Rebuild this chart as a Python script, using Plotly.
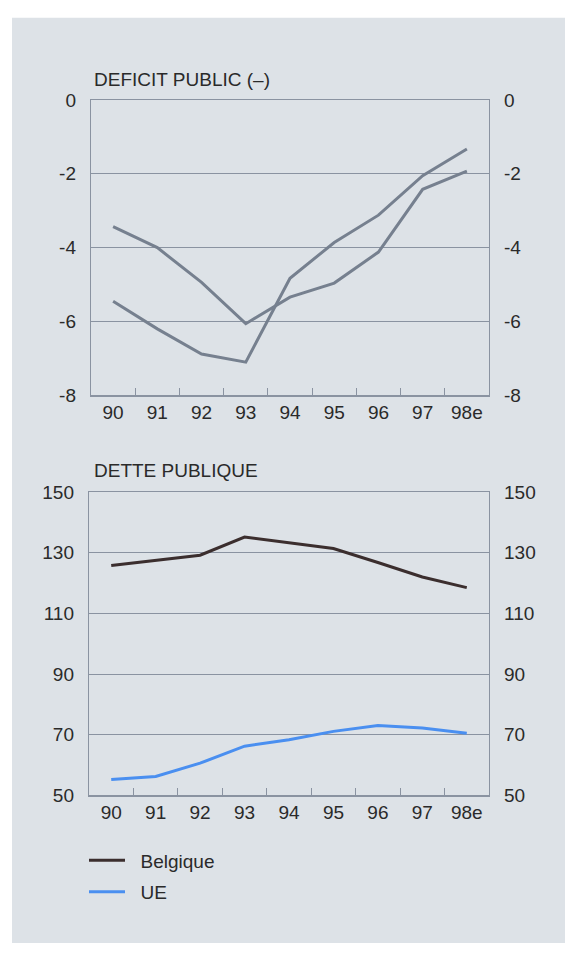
import plotly.graph_objects as go

years = ["90", "91", "92", "93", "94", "95", "96", "97", "98e"]

# Déficit public (% du PIB)
deficit_belgique = [-5.45, -6.2, -6.88, -7.1, -4.83, -3.86, -3.12, -2.05, -1.33]
deficit_ue = [-3.43, -4.0, -4.94, -6.06, -5.34, -4.96, -4.12, -2.42, -1.93]

# Dette publique (% du PIB)
dette_belgique = [125.8, 127.6, 129.2, 135.2, 133.4, 131.4, 126.8, 122.0, 118.5]
dette_ue = [55.2, 56.2, 60.6, 66.2, 68.3, 71.1, 73.0, 72.2, 70.5]

deficit_ticks = [0, -2, -4, -6, -8]
dette_ticks = [150, 130, 110, 90, 70, 50]

legend_names = ["Belgique", "UE"]

W, H = 568, 954
BG = "#dde2e7"
GRID = "#8a93a1"
GREY_LINE = "#76808f"
BEL = "#3b2e2e"
UE_C = "#4a8ff0"
FONT = "Liberation Sans, Arial, sans-serif"
TXT = "#2a2a2a"
FS = 19
PAD = "\u00a0\u00a0"

def px_x(v):
    return v / W

def px_y(v):
    return 1 - v / H

fig = go.Figure()

# top chart
fig.add_trace(go.Scatter(x=years, y=deficit_belgique, mode="lines", line=dict(color=GREY_LINE, width=3),
                         xaxis="x", yaxis="y", showlegend=False, hoverinfo="skip"))
fig.add_trace(go.Scatter(x=years, y=deficit_ue, mode="lines", line=dict(color=GREY_LINE, width=3),
                         xaxis="x", yaxis="y", showlegend=False, hoverinfo="skip"))
fig.add_trace(go.Scatter(x=years, y=deficit_ue, mode="lines", line=dict(width=0), opacity=0,
                         xaxis="x", yaxis="y3", showlegend=False, hoverinfo="skip"))

# bottom chart
fig.add_trace(go.Scatter(x=years, y=dette_belgique, mode="lines", name=PAD + legend_names[0],
                         line=dict(color=BEL, width=3), xaxis="x2", yaxis="y2",
                         legendgroup="a", hoverinfo="skip"))
fig.add_trace(go.Scatter(x=years, y=dette_ue, mode="lines", name=PAD + legend_names[1],
                         line=dict(color=UE_C, width=3), xaxis="x2", yaxis="y2",
                         legendgroup="b", hoverinfo="skip"))
fig.add_trace(go.Scatter(x=years, y=dette_ue, mode="lines", line=dict(width=0), opacity=0,
                         xaxis="x2", yaxis="y4", showlegend=False, hoverinfo="skip"))

xcommon = dict(type="category", range=[-0.5, 8.5], tickson="boundaries", ticks="inside",
               ticklen=7, tickcolor=GRID, tickwidth=1.2, showgrid=False, showline=True,
               linecolor=GRID, linewidth=1.2, mirror=True, zeroline=False,
               tickfont=dict(family=FONT, size=FS, color=TXT), fixedrange=True)

ycommon = dict(showline=True, linecolor=GRID, linewidth=1.2, showgrid=True, gridcolor=GRID,
               gridwidth=1, zeroline=False, ticks="", tickfont=dict(family=FONT, size=FS, color=TXT),
               fixedrange=True, ticklabelstandoff=10)

fig.update_layout(
    width=W, height=H,
    margin=dict(l=0, r=0, t=0, b=0),
    paper_bgcolor="white",
    plot_bgcolor="white",
    xaxis=dict(domain=[px_x(91), px_x(489)], anchor="y", **xcommon),
    yaxis=dict(domain=[px_y(394), px_y(92)], anchor="x", range=[-8, 0],
               tickvals=deficit_ticks, ticktext=[str(v) for v in deficit_ticks], **ycommon),
    yaxis3=dict(overlaying="y", side="right", anchor="x", range=[-8, 0],
                tickvals=deficit_ticks, ticktext=[str(v) for v in deficit_ticks],
                **{**ycommon, "showgrid": False}),
    xaxis2=dict(domain=[px_x(89), px_x(489)], anchor="y2", **xcommon),
    yaxis2=dict(domain=[px_y(803), px_y(493)], anchor="x2", range=[50, 150],
                tickvals=dette_ticks, ticktext=[str(v) for v in dette_ticks], **ycommon),
    yaxis4=dict(overlaying="y2", side="right", anchor="x2", range=[50, 150],
                tickvals=dette_ticks, ticktext=[str(v) for v in dette_ticks],
                **{**ycommon, "showgrid": False}),
    legend=dict(x=px_x(84), y=px_y(850), xanchor="left", yanchor="top",
                bgcolor="rgba(0,0,0,0)", font=dict(family=FONT, size=FS, color=TXT),
                traceorder="grouped", tracegroupgap=4, itemwidth=36),
    showlegend=True,
    shapes=[dict(type="rect", xref="paper", yref="paper", x0=px_x(12), x1=px_x(565),
                 y0=0, y1=px_y(8), fillcolor=BG, line=dict(width=0), layer="below")],
    annotations=[
        dict(text="DEFICIT PUBLIC (–)", xref="paper", yref="paper", x=px_x(92), y=px_y(71),
             xanchor="left", yanchor="middle", showarrow=False,
             font=dict(family=FONT, size=FS, color=TXT)),
        dict(text="DETTE PUBLIQUE", xref="paper", yref="paper", x=px_x(92), y=px_y(471),
             xanchor="left", yanchor="middle", showarrow=False,
             font=dict(family=FONT, size=FS, color=TXT)),
    ],
)

post = ("document.documentElement.style.margin='0';"
        "document.body.style.margin='0';document.body.style.padding='0';"
        "document.body.style.overflow='hidden';"
        "var g=document.getElementsByClassName('plotly-graph-div')[0];"
        "g.style.position='fixed';g.style.top='0px';g.style.left='0px';")

fig.write_html("out.html", config={"displayModeBar": False, "staticPlot": True},
               post_script=post)
